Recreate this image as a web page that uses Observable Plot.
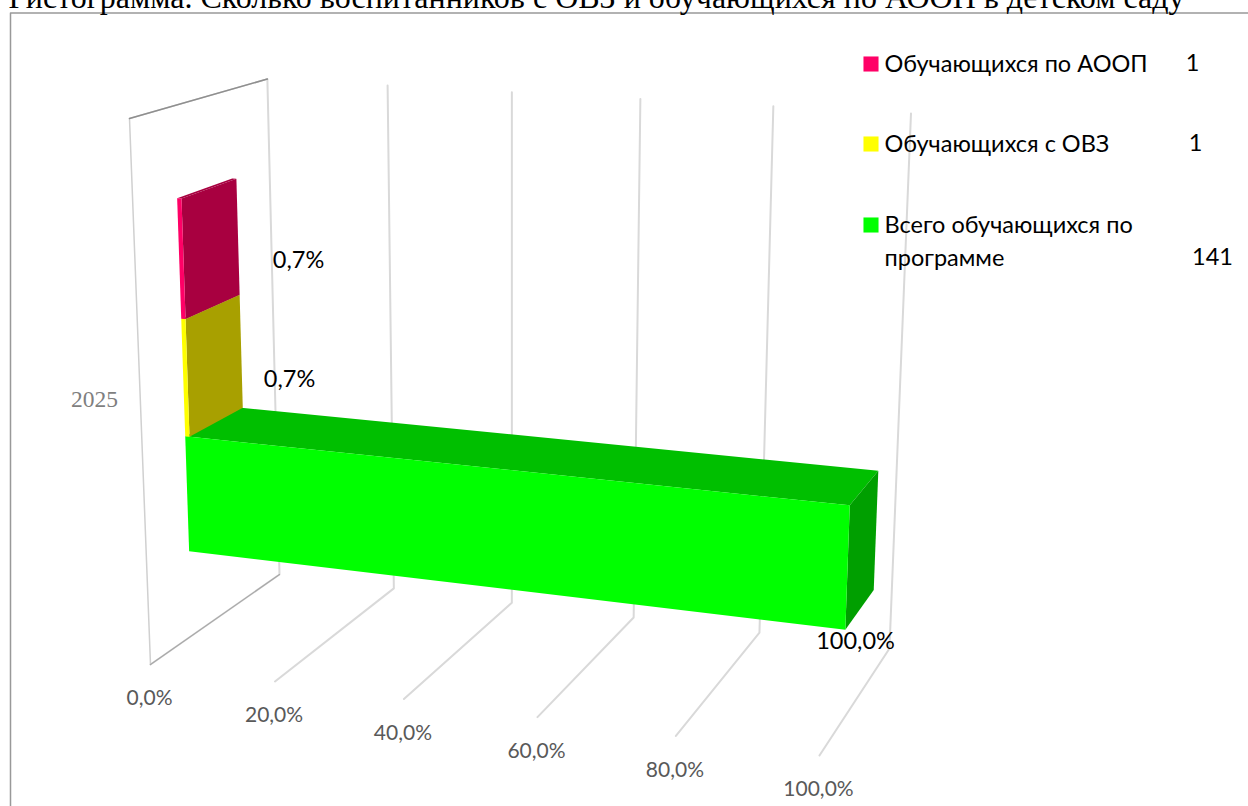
<!DOCTYPE html>
<html lang="ru">
<head>
<meta charset="utf-8">
<script src="https://cdn.jsdelivr.net/npm/d3@7"></script>
<script src="https://cdn.jsdelivr.net/npm/@observablehq/plot@0.6"></script>
<style>
html,body{margin:0;padding:0;background:#fff;overflow:hidden}
svg{display:block}
</style>
</head>
<body>
<div id="chart"></div>
<script>
// ---- data ----
const titleText = "Гистограмма. Сколько воспитанников с ОВЗ и обучающихся по АООП в детском саду";
const category = "2025";
const seriesNames = ["Всего обучающихся по программе", "Обучающихся с ОВЗ", "Обучающихся по АООП"];
const seriesCounts = [141, 1, 1];
const seriesPercents = [100, 0.7, 0.7];
const percentLabels = ["100,0%", "0,7%", "0,7%"];
const axisTicks = [0, 20, 40, 60, 80, 100];
const axisTickLabels = ["0,0%", "20,0%", "40,0%", "60,0%", "80,0%", "100,0%"];

// ---- styles ----
const faceColors = {
  front: ["#00ff00", "#ffff00", "#ff0066"],
  top:   ["#00bf00", "#a8a000", "#a80040"],
  side:  ["#009f00", "#a8a000", "#a80040"]
};
const gridColor = "#d9d9d9";
const bodyFont = "Lato, 'Open Sans', sans-serif";

// ---- 3-D view: value (0–100), depth (0 front – 1 back), rise (0 floor – 1 top) → screen ----
const project = (value, depth, rise) => {
  const u = value / 100;
  const w = 1 - 0.0852 * u + 0.1065 * depth - 0.055 * rise;
  return [
    (150 + 599.2 * u + 158.7 * depth - 28.1 * rise) / w,
    (664 + 26.7 * u - 28.9 * depth - 552.5 * rise) / w
  ];
};
const band = i => [1 / 6 + i * 2 / 9, 1 / 6 + (i + 1) * 2 / 9];
const depthFront = 0.3, depthBack = 0.705;

const poly = (id, fill, corners) => corners.map(([v, d, r]) => {
  const [x, y] = project(v, d, r);
  return {id, fill, x, y};
});

const faces = [];
seriesPercents.forEach((value, i) => {
  const [r0, r1] = band(i);
  faces.push(...poly(`t${i}`, faceColors.top[i], [[0, depthFront, r1], [value, depthFront, r1], [value, depthBack, r1], [0, depthBack, r1]]));
  faces.push(...poly(`s${i}`, faceColors.side[i], [[value, depthFront, r0], [value, depthBack, r0], [value, depthBack, r1], [value, depthFront, r1]]));
  faces.push(...poly(`f${i}`, faceColors.front[i], [[0, depthFront, r0], [value, depthFront, r0], [value, depthFront, r1], [0, depthFront, r1]]));
});

const gridLines = axisTicks.flatMap(t => {
  const pts = [[t, 0, 0], [t, 1, 0], [t, 1, 1]];
  return pts.map(([v, d, r]) => {
    const [x, y] = project(v, d, r);
    return {t, x, y};
  });
});
const wallEdge = [[0, 1, 1], [0, 0, 1], [0, 0, 0]].map(([v, d, r]) => {
  const [x, y] = project(v, d, r);
  return {x, y};
});
const wallTop = [[0, 1, 1], [0, 0, 1]].map(([v, d, r]) => {
  const [x, y] = project(v, d, r);
  return {x, y};
});
const wallFloor = [[0, 1, 0], [0, 0, 0]].map(([v, d, r]) => {
  const [x, y] = project(v, d, r);
  return {x, y};
});

const tickRows = axisTicks.map((t, i) => {
  const [x, y] = project(t, 0, 0);
  return {x: x - 1, y, label: axisTickLabels[i]};
});

const dataLabelAt = [
  {x: 855, y: 641},
  {x: 289, y: 379},
  {x: 298, y: 260}
];
const dataLabels = percentLabels.map((label, i) => ({...dataLabelAt[i], label}));

const legendRows = [
  {s: 2, y: 63.5, lines: [seriesNames[2]], cx: 1192, cy: 63},
  {s: 1, y: 143.5, lines: [seriesNames[1]], cx: 1195, cy: 143},
  {s: 0, y: 224.5, lines: ["Всего обучающихся по", "программе"], cx: 1212, cy: 257}
];
const legendText = legendRows.flatMap(r => r.lines.map((line, k) => ({line, y: r.y + k * 33})));
const legendCounts = legendRows.map(r => ({v: String(seriesCounts[r.s]), x: r.cx, y: r.cy}));

const chart = Plot.plot({
  width: 1248, height: 806,
  margin: 0,
  x: {domain: [0, 1248], range: [0, 1248], axis: null},
  y: {domain: [0, 806], range: [0, 806], axis: null},
  marks: [
    // frame
    Plot.line([{x: 10, y: 806}, {x: 10, y: 12.5}, {x: 1248, y: 12.5}], {x: "x", y: "y", stroke: "#999999", strokeWidth: 1.5}),
    // title
    Plot.text([titleText], {x: 8, y: 7, text: d => d, textAnchor: "start", fontFamily: "'Liberation Serif', serif", fontSize: 32, fill: "#000", lineAnchor: "bottom"}),
    // gridlines
    Plot.line(gridLines, {x: "x", y: "y", z: "t", stroke: gridColor, strokeWidth: 2}),
    Plot.line(wallEdge, {x: "x", y: "y", stroke: "#d0d0d0", strokeWidth: 1.5}),
    Plot.line(wallTop, {x: "x", y: "y", stroke: "#8f8f8f", strokeWidth: 1.5}),
    Plot.line(wallFloor, {x: "x", y: "y", stroke: "#a8a8a8", strokeWidth: 1.2}),
    // bars
    Plot.line(faces, {x: "x", y: "y", z: "id", fill: "fill", stroke: null, curve: "linear-closed"}),
    // axis labels
    Plot.text(tickRows, {x: "x", y: "y", text: "label", dy: 34, fontFamily: bodyFont, fontSize: 21, fill: "#595959"}),
    Plot.text([category], {x: 94, y: 399, text: d => d, fontFamily: "'Liberation Serif', serif", fontSize: 23.5, fill: "#7f7f7f"}),
    // data labels
    Plot.text(dataLabels, {x: "x", y: "y", text: "label", fontFamily: bodyFont, fontSize: 23.5, fill: "#000"}),
    // legend
    Plot.dot(legendRows, {x: 870.5, y: "y", symbol: "square", r: 8.5, fill: d => faceColors.front[d.s], stroke: null}),
    Plot.text(legendText, {x: 884, y: "y", text: "line", textAnchor: "start", fontFamily: bodyFont, fontSize: 23.5, fill: "#000"}),
    Plot.text(legendCounts, {x: "x", y: "y", text: "v", fontFamily: bodyFont, fontSize: 23.5, fill: "#000"})
  ]
});
document.getElementById("chart").appendChild(chart);
</script>
</body>
</html>
